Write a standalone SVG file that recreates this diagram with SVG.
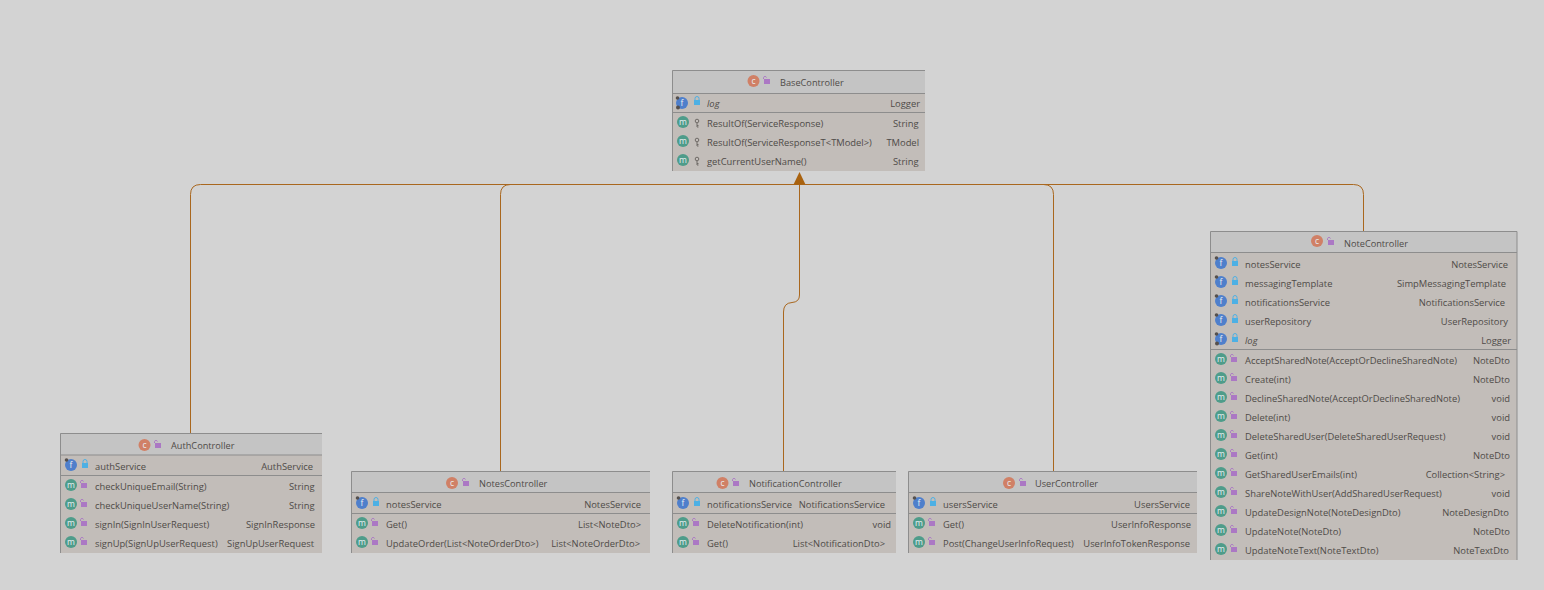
<svg xmlns="http://www.w3.org/2000/svg" width="1544" height="590" viewBox="0 0 1544 590">
<style>
text{font-family:"Open Sans","Noto Sans","Liberation Sans",sans-serif;font-size:9.4px;fill:#4f4b48}
.t{font-size:9.2px}
.r{text-anchor:end}
.i{font-style:italic}
.ic{text-anchor:middle;font-size:8.5px;fill:#e8eef2}
.hd{fill:#c4c4c4}
.bd{fill:#c2bdb9}
.ln{stroke:#8d8d8d;stroke-width:1;fill:none}
.cn{stroke:#a9671e;stroke-width:1;fill:none}
</style>
<defs>
<g id="lb"><rect x="-3" y="-2" width="6" height="5" fill="#4db0e4"/><path d="M-2-2v-1.500a2 2 0 0 1 4 0V-2" fill="none" stroke="#4db0e4" stroke-width="1"/></g>
<g id="lp"><rect x="-2" y="-1" width="6" height="5" fill="#ab78c4"/><path d="M-2.500-1v-1.500a1.600 1.600 0 0 1 3 0" fill="none" stroke="#ab78c4" stroke-width="1"/></g>
<g id="lk"><circle cy="-2" r="1.800" fill="none" stroke="#6f6a66" stroke-width="1"/><path d="M0 0V4M0 2.500H1.500M0 4H1.500" stroke="#6f6a66" stroke-width="1"/></g>
<circle id="pin" cx="-4.500" cy="-5" r="1.800" fill="#55504d"/>
<circle id="gear" cx="-4" cy="4.500" r="2" fill="#55504d"/>
<circle id="cf" r="6" fill="#4f7fcb"/>
<circle id="cm" r="6" fill="#4e9c8a"/>
<circle id="cc" r="6" fill="#d08066"/>
</defs>
<rect width="1544" height="590" fill="#d3d3d3"/>
<g id="connectors">
<path class="cn" d="M190.500 433V194.500Q190.500 184.500 200.500 184.500H1353.500Q1363.500 184.500 1363.500 194.500V232"/>
<path class="cn" d="M500.500 471V194.500Q500.500 184.500 510.500 184.500"/>
<path class="cn" d="M1053.500 471V194.500Q1053.500 184.500 1043.500 184.500"/>
<path class="cn" d="M799.500 184V295Q799.500 302 792 302.500Q783.500 303 783.500 312V471"/>
<polygon points="799.500,172 793.500,184.500 805.500,184.500" fill="#a9620f"/>
</g>
<g id="BaseController">
<rect class="hd" x="672" y="70" width="253" height="23"/><rect class="bd" x="672" y="93" width="253" height="78"/>
<path class="ln" d="M672.500 171V70.500H925M672 93.500H925M672 112.500H925"/>
<use href="#cc" x="753.500" y="81"/><text class="ic" x="753.500" y="84">c</text><use href="#lp" x="766" y="80"/><text class="t" x="780" y="86">BaseController</text>
<use href="#cf" x="682" y="103"/><use href="#pin" x="682" y="103"/><use href="#gear" x="682" y="103"/><text class="ic" x="682" y="106">f</text><use href="#lb" x="697" y="102"/><text class="i" x="707" y="107">log</text><text class="r" x="920" y="107">Logger</text>
<use href="#cm" x="683" y="122"/><text class="ic" x="683" y="125">m</text><use href="#lk" x="697" y="123"/><text x="707" y="127">ResultOf(ServiceResponse)</text><text class="r" x="918.500" y="127">String</text>
<use href="#cm" x="683" y="141"/><text class="ic" x="683" y="144">m</text><use href="#lk" x="697" y="142"/><text x="707" y="146">ResultOf(ServiceResponseT&lt;TModel&gt;)</text><text class="r" x="919" y="146">TModel</text>
<use href="#cm" x="683" y="160"/><text class="ic" x="683" y="163">m</text><use href="#lk" x="697" y="161"/><text x="707" y="165">getCurrentUserName()</text><text class="r" x="918.500" y="165">String</text>
</g>
<g id="AuthController">
<rect class="hd" x="60" y="433" width="262" height="22"/><rect class="bd" x="60" y="455" width="262" height="98"/>
<path class="ln" d="M60.500 553V433.500H322M60 455H322M60 475.500H322"/>
<use href="#cc" x="144.500" y="445"/><text class="ic" x="144.500" y="448">c</text><use href="#lp" x="157" y="444"/><text class="t" x="171" y="449">AuthController</text>
<use href="#cf" x="71" y="465"/><use href="#pin" x="71" y="465"/><text class="ic" x="71" y="468">f</text><use href="#lb" x="85" y="465"/><text x="95" y="470">authService</text><text class="r" x="313" y="470">AuthService</text>
<use href="#cm" x="71" y="485"/><text class="ic" x="71" y="488">m</text><use href="#lp" x="83" y="484"/><text x="95" y="490">checkUniqueEmail(String)</text><text class="r" x="314.500" y="490">String</text>
<use href="#cm" x="71" y="504"/><text class="ic" x="71" y="507">m</text><use href="#lp" x="83" y="503"/><text x="95" y="509">checkUniqueUserName(String)</text><text class="r" x="314.500" y="509">String</text>
<use href="#cm" x="71" y="523"/><text class="ic" x="71" y="526">m</text><use href="#lp" x="83" y="522"/><text x="95" y="528">signIn(SignInUserRequest)</text><text class="r" x="315" y="528">SignInResponse</text>
<use href="#cm" x="71" y="542"/><text class="ic" x="71" y="545">m</text><use href="#lp" x="83" y="541"/><text x="95" y="547">signUp(SignUpUserRequest)</text><text class="r" x="314" y="547">SignUpUserRequest</text>
</g>
<g id="NotesController">
<rect class="hd" x="351" y="471" width="299" height="22"/><rect class="bd" x="351" y="493" width="299" height="60"/>
<path class="ln" d="M351.500 553V471.500H650M351 492.500H650M351 513.500H650"/>
<use href="#cc" x="452" y="483"/><text class="ic" x="452" y="486">c</text><use href="#lp" x="465" y="482"/><text class="t" x="479" y="487">NotesController</text>
<use href="#cf" x="362" y="503"/><use href="#pin" x="362" y="503"/><text class="ic" x="362" y="506">f</text><use href="#lb" x="376" y="503"/><text x="386" y="508">notesService</text><text class="r" x="641" y="508">NotesService</text>
<use href="#cm" x="362" y="523"/><text class="ic" x="362" y="526">m</text><use href="#lp" x="374" y="522"/><text x="386" y="528">Get()</text><text class="r" x="641" y="528">List&lt;NoteDto&gt;</text>
<use href="#cm" x="362" y="542"/><text class="ic" x="362" y="545">m</text><use href="#lp" x="374" y="541"/><text x="386" y="547">UpdateOrder(List&lt;NoteOrderDto&gt;)</text><text class="r" x="640" y="547">List&lt;NoteOrderDto&gt;</text>
</g>
<g id="NotificationController">
<rect class="hd" x="672" y="471" width="224" height="22"/><rect class="bd" x="672" y="493" width="224" height="60"/>
<path class="ln" d="M672.500 553V471.500H896M672 492.500H896M672 513.500H896"/>
<use href="#cc" x="722.500" y="483"/><text class="ic" x="722.500" y="486">c</text><use href="#lp" x="735" y="482"/><text class="t" x="749" y="487">NotificationController</text>
<use href="#cf" x="683" y="503"/><use href="#pin" x="683" y="503"/><text class="ic" x="683" y="506">f</text><use href="#lb" x="697" y="503"/><text x="707" y="508">notificationsService</text><text class="r" x="885" y="508">NotificationsService</text>
<use href="#cm" x="683" y="523"/><text class="ic" x="683" y="526">m</text><use href="#lp" x="695" y="522"/><text x="707" y="528">DeleteNotification(int)</text><text class="r" x="891" y="528">void</text>
<use href="#cm" x="683" y="542"/><text class="ic" x="683" y="545">m</text><use href="#lp" x="695" y="541"/><text x="707" y="547">Get()</text><text class="r" x="885" y="547">List&lt;NotificationDto&gt;</text>
</g>
<g id="UserController">
<rect class="hd" x="908" y="471" width="289" height="22"/><rect class="bd" x="908" y="493" width="289" height="60"/>
<path class="ln" d="M908.500 553V471.500H1197M908 492.500H1197M908 513.500H1197"/>
<use href="#cc" x="1009" y="483"/><text class="ic" x="1009" y="486">c</text><use href="#lp" x="1022" y="482"/><text class="t" x="1035" y="487">UserController</text>
<use href="#cf" x="919" y="503"/><use href="#pin" x="919" y="503"/><text class="ic" x="919" y="506">f</text><use href="#lb" x="933" y="503"/><text x="943" y="508">usersService</text><text class="r" x="1190" y="508">UsersService</text>
<use href="#cm" x="919" y="523"/><text class="ic" x="919" y="526">m</text><use href="#lp" x="931" y="522"/><text x="943" y="528">Get()</text><text class="r" x="1191" y="528">UserInfoResponse</text>
<use href="#cm" x="919" y="542"/><text class="ic" x="919" y="545">m</text><use href="#lp" x="931" y="541"/><text x="943" y="547">Post(ChangeUserInfoRequest)</text><text class="r" x="1190" y="547">UserInfoTokenResponse</text>
</g>
<g id="NoteController">
<rect class="hd" x="1210" y="232" width="307" height="21"/><rect class="bd" x="1210" y="253" width="307" height="307"/>
<path class="ln" d="M1210.500 560V231.500H1517V560M1210 252.500H1517M1210 349.500H1517"/>
<use href="#cc" x="1317" y="241"/><text class="ic" x="1317" y="244">c</text><use href="#lp" x="1330" y="241"/><text class="t" x="1344" y="247">NoteController</text>
<use href="#cf" x="1221" y="263"/><use href="#pin" x="1221" y="263"/><text class="ic" x="1221" y="266">f</text><use href="#lb" x="1235" y="263"/><text x="1245" y="268">notesService</text><text class="r" x="1508" y="268">NotesService</text>
<use href="#cf" x="1221" y="282"/><use href="#pin" x="1221" y="282"/><text class="ic" x="1221" y="285">f</text><use href="#lb" x="1235" y="282"/><text x="1245" y="287">messagingTemplate</text><text class="r" x="1506" y="287">SimpMessagingTemplate</text>
<use href="#cf" x="1221" y="301"/><use href="#pin" x="1221" y="301"/><text class="ic" x="1221" y="304">f</text><use href="#lb" x="1235" y="301"/><text x="1245" y="306">notificationsService</text><text class="r" x="1505" y="306">NotificationsService</text>
<use href="#cf" x="1221" y="320"/><use href="#pin" x="1221" y="320"/><text class="ic" x="1221" y="323">f</text><use href="#lb" x="1235" y="320"/><text x="1245" y="325">userRepository</text><text class="r" x="1508" y="325">UserRepository</text>
<use href="#cf" x="1221" y="339"/><use href="#pin" x="1221" y="339"/><use href="#gear" x="1221" y="339"/><text class="ic" x="1221" y="342">f</text><use href="#lb" x="1235" y="339"/><text class="i" x="1245" y="344">log</text><text class="r" x="1511" y="344">Logger</text>
<use href="#cm" x="1221" y="359"/><text class="ic" x="1221" y="362">m</text><use href="#lp" x="1233" y="358"/><text x="1245" y="364">AcceptSharedNote(AcceptOrDeclineSharedNote)</text><text class="r" x="1510" y="364">NoteDto</text>
<use href="#cm" x="1221" y="378"/><text class="ic" x="1221" y="381">m</text><use href="#lp" x="1233" y="377"/><text x="1245" y="383">Create(int)</text><text class="r" x="1510" y="383">NoteDto</text>
<use href="#cm" x="1221" y="397"/><text class="ic" x="1221" y="400">m</text><use href="#lp" x="1233" y="396"/><text x="1245" y="402">DeclineSharedNote(AcceptOrDeclineSharedNote)</text><text class="r" x="1510" y="402">void</text>
<use href="#cm" x="1221" y="416"/><text class="ic" x="1221" y="419">m</text><use href="#lp" x="1233" y="415"/><text x="1245" y="421">Delete(int)</text><text class="r" x="1510" y="421">void</text>
<use href="#cm" x="1221" y="435"/><text class="ic" x="1221" y="438">m</text><use href="#lp" x="1233" y="434"/><text x="1245" y="440">DeleteSharedUser(DeleteSharedUserRequest)</text><text class="r" x="1510" y="440">void</text>
<use href="#cm" x="1221" y="454"/><text class="ic" x="1221" y="457">m</text><use href="#lp" x="1233" y="453"/><text x="1245" y="459">Get(int)</text><text class="r" x="1510" y="459">NoteDto</text>
<use href="#cm" x="1221" y="473"/><text class="ic" x="1221" y="476">m</text><use href="#lp" x="1233" y="472"/><text x="1245" y="478">GetSharedUserEmails(int)</text><text class="r" x="1505" y="478">Collection&lt;String&gt;</text>
<use href="#cm" x="1221" y="492"/><text class="ic" x="1221" y="495">m</text><use href="#lp" x="1233" y="491"/><text x="1245" y="497">ShareNoteWithUser(AddSharedUserRequest)</text><text class="r" x="1510" y="497">void</text>
<use href="#cm" x="1221" y="511"/><text class="ic" x="1221" y="514">m</text><use href="#lp" x="1233" y="510"/><text x="1245" y="516">UpdateDesignNote(NoteDesignDto)</text><text class="r" x="1509" y="516">NoteDesignDto</text>
<use href="#cm" x="1221" y="530"/><text class="ic" x="1221" y="533">m</text><use href="#lp" x="1233" y="529"/><text x="1245" y="535">UpdateNote(NoteDto)</text><text class="r" x="1510" y="535">NoteDto</text>
<use href="#cm" x="1221" y="549"/><text class="ic" x="1221" y="552">m</text><use href="#lp" x="1233" y="548"/><text x="1245" y="554">UpdateNoteText(NoteTextDto)</text><text class="r" x="1509" y="554">NoteTextDto</text>
</g>
</svg>
